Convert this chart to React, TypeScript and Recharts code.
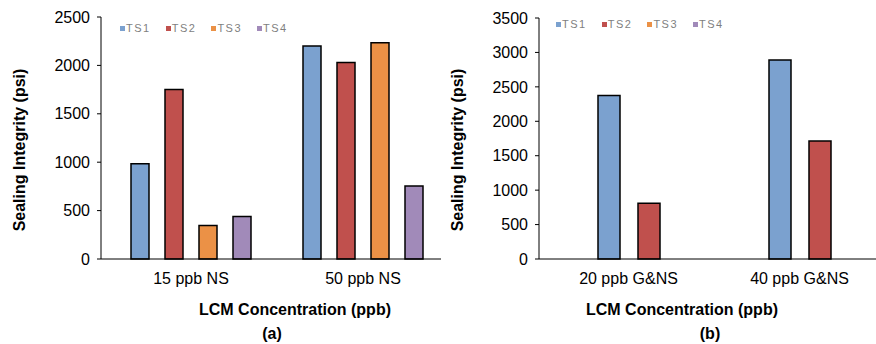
import { Bar, BarChart, XAxis, YAxis } from "recharts";

const categoriesA = ["15 ppb NS", "50 ppb NS"];
const ts1A = [985, 2200];
const ts2A = [1750, 2030];
const ts3A = [345, 2235];
const ts4A = [440, 755];
const ticksA = [0, 500, 1000, 1500, 2000, 2500];

const categoriesB = ["20 ppb G&NS", "40 ppb G&NS"];
const ts1B = [2375, 2890];
const ts2B = [810, 1715];
const ticksB = [0, 500, 1000, 1500, 2000, 2500, 3000, 3500];

const seriesNames = ["TS1", "TS2", "TS3", "TS4"];
const seriesColors = ["#7BA1CF", "#C0504D", "#EB9146", "#A18AB9"];

const dataA = categoriesA.map((name, i) => ({
  name,
  TS1: ts1A[i],
  TS2: ts2A[i],
  TS3: ts3A[i],
  TS4: ts4A[i],
}));

const dataB = categoriesB.map((name, i) => ({
  name,
  TS1: ts1B[i],
  TS2: ts2B[i],
}));

const font = '"Liberation Sans", Arial, sans-serif';
const tick = { fontSize: 16, fill: "#000", fontFamily: font };
const axisLine = { stroke: "#000", strokeWidth: 1 };

function LegendRow({ left, top }: { left: number; top: number }) {
  return (
    <div
      style={{
        position: "absolute",
        left,
        top,
        display: "flex",
        fontSize: 11,
        lineHeight: "12px",
        color: "#7f7f7f",
        letterSpacing: 1.5,
      }}
    >
      {seriesNames.map((n, i) => (
        <div key={n} style={{ width: 45.7, display: "flex", alignItems: "center" }}>
          <span style={{ width: 5, height: 5, background: seriesColors[i], marginRight: 1 }} />
          <span>{n}</span>
        </div>
      ))}
    </div>
  );
}

function Text({ x, y, children }: { x: number; y: number; children: string }) {
  return (
    <div
      style={{
        position: "absolute",
        left: x,
        top: y,
        transform: "translate(-50%, -50%)",
        fontSize: 16,
        fontWeight: "bold",
        whiteSpace: "nowrap",
      }}
    >
      {children}
    </div>
  );
}

function VText({ x, y, children }: { x: number; y: number; children: string }) {
  return (
    <div
      style={{
        position: "absolute",
        left: x,
        top: y,
        transform: "translate(-50%, -50%) rotate(-90deg)",
        fontSize: 16,
        fontWeight: "bold",
        whiteSpace: "nowrap",
      }}
    >
      {children}
    </div>
  );
}

export default function App() {
  return (
    <div
      style={{
        position: "absolute",
        left: 0,
        top: 0,
        width: 876,
        height: 344,
        overflow: "hidden",
        background: "#fff",
        fontFamily: font,
        color: "#000",
      }}
    >
      <div style={{ position: "absolute", left: 0, top: 0 }}>
        <BarChart
          width={452}
          height={344}
          data={dataA}
          margin={{ top: 17, right: 3, bottom: 55, left: 0 }}
          barSize={18}
          barGap={16}
        >
          <XAxis
            dataKey="name"
            tick={tick}
            axisLine={axisLine}
            tickLine={false}
            tickSize={6}
            tickMargin={8}
            height={30}
            padding={{ left: 4, right: 0 }}
          />
          <YAxis
            domain={[0, 2500]}
            ticks={ticksA}
            tick={tick}
            axisLine={axisLine}
            tickLine={{ stroke: "#000" }}
            tickSize={4}
            tickMargin={7}
            width={101}
          />
          {seriesNames.map((n, i) => (
            <Bar
              key={n}
              dataKey={n}
              fill={seriesColors[i]}
              stroke="#000"
              strokeWidth={1.5}
              isAnimationActive={false}
            />
          ))}
        </BarChart>
      </div>
      <LegendRow left={120} top={22} />
      <VText x={20} y={150}>Sealing Integrity (psi)</VText>
      <Text x={295} y={310}>LCM Concentration (ppb)</Text>
      <Text x={272} y={334}>(a)</Text>

      <div style={{ position: "absolute", left: 441, top: 0, background: "#fff" }}>
        <BarChart
          width={446}
          height={344}
          data={dataB}
          margin={{ top: 18, right: 2, bottom: 55, left: 0 }}
          barSize={22}
          barGap={18}
        >
          <XAxis
            dataKey="name"
            tick={tick}
            axisLine={axisLine}
            tickLine={false}
            tickSize={6}
            tickMargin={8}
            height={30}
            padding={{ left: 4, right: 0 }}
          />
          <YAxis
            domain={[0, 3500]}
            ticks={ticksB}
            tick={tick}
            axisLine={axisLine}
            tickLine={{ stroke: "#000" }}
            tickSize={4}
            tickMargin={7}
            width={98}
          />
          {seriesNames.slice(0, 2).map((n, i) => (
            <Bar
              key={n}
              dataKey={n}
              fill={seriesColors[i]}
              stroke="#000"
              strokeWidth={1.5}
              isAnimationActive={false}
            />
          ))}
        </BarChart>
      </div>
      <LegendRow left={556} top={18} />
      <VText x={458} y={150}>Sealing Integrity (psi)</VText>
      <Text x={682} y={310}>LCM Concentration (ppb)</Text>
      <Text x={710} y={334}>(b)</Text>
    </div>
  );
}
